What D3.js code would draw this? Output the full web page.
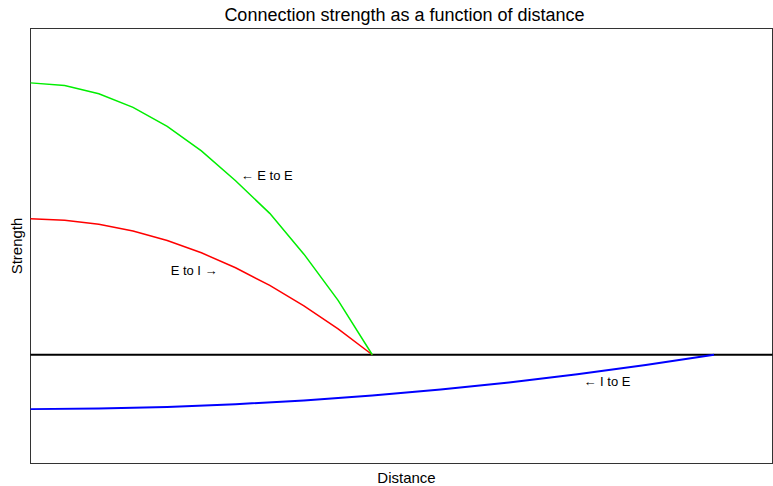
<!DOCTYPE html>
<html>
<head>
<meta charset="utf-8">
<script src="https://cdn.jsdelivr.net/npm/d3@7"></script>
<style>
  body { margin: 0; background: #fff; }
  svg { display: block; font-family: "Liberation Sans", Arial, sans-serif; }
</style>
</head>
<body>
<div id="chart"></div>
<script>
// Distances sampled for each connection type
const distE = [0, 0.1, 0.2, 0.3, 0.4, 0.5, 0.6, 0.7, 0.8, 0.9, 1.0];
const strengthEE = [1.0, 0.99, 0.96, 0.91, 0.84, 0.75, 0.64, 0.52, 0.37, 0.2, 0];
const strengthEI = [0.5, 0.495, 0.48, 0.455, 0.42, 0.375, 0.32, 0.255, 0.18, 0.095, 0];
const distI = [0, 0.2, 0.4, 0.6, 0.8, 1.0, 1.2, 1.4, 1.6, 1.8, 2.0];
const strengthIE = [-0.2, -0.198, -0.192, -0.182, -0.168, -0.15, -0.128, -0.102, -0.072, -0.038, 0];

const labels = [
  { text: "\u2190 E to E", d: 0.615, s: 0.642 },
  { text: "E to I \u2192", d: 0.41, s: 0.293 },
  { text: "\u2190 I to E", d: 1.618, s: -0.115 }
];

const width = 773, height = 486;
const margin = { top: 28.5, right: 0.5, bottom: 22.5, left: 30.5 };

const svg = d3.select("#chart")
  .append("svg")
  .attr("width", width)
  .attr("height", height);

const x = d3.scaleLinear()
  .domain([0, 2.171])
  .range([margin.left, width - margin.right]);

const y = d3.scaleLinear()
  .domain([-0.4, 1.2])
  .range([height - margin.bottom, margin.top]);

// frame
svg.append("rect")
  .attr("x", margin.left)
  .attr("y", margin.top)
  .attr("width", width - margin.right - margin.left)
  .attr("height", height - margin.bottom - margin.top)
  .attr("fill", "none")
  .attr("stroke", "#333")
  .attr("stroke-width", 1);

// zero line
svg.append("line")
  .attr("x1", x(0))
  .attr("x2", x.range()[1])
  .attr("y1", y(0))
  .attr("y2", y(0))
  .attr("stroke", "#000")
  .attr("stroke-width", 2);

const line = d3.line()
  .x(d => x(d[0]))
  .y(d => y(d[1]));

const series = [
  { dist: distE, vals: strengthEI, color: "#ff0000", w: 1.5 },
  { dist: distE, vals: strengthEE, color: "#00ee00", w: 1.5 },
  { dist: distI, vals: strengthIE, color: "#0000ff", w: 2 }
];

svg.append("g")
  .selectAll("path")
  .data(series)
  .join("path")
  .attr("fill", "none")
  .attr("stroke", d => d.color)
  .attr("stroke-width", d => d.w)
  .attr("d", d => line(d.dist.map((v, i) => [v, d.vals[i]])));

svg.append("g")
  .selectAll("text")
  .data(labels)
  .join("text")
  .attr("x", d => x(d.d))
  .attr("y", d => y(d.s))
  .attr("font-size", 13)
  .attr("fill", "#000")
  .text(d => d.text);

// title and axis labels
svg.append("text")
  .attr("x", (margin.left + width - margin.right) / 2 + 3)
  .attr("y", 21)
  .attr("text-anchor", "middle")
  .attr("font-size", 18)
  .text("Connection strength as a function of distance");

svg.append("text")
  .attr("x", (margin.left + width - margin.right) / 2 + 5)
  .attr("y", 483)
  .attr("text-anchor", "middle")
  .attr("font-size", 15)
  .text("Distance");

svg.append("text")
  .attr("transform", `translate(22, ${(margin.top + height - margin.bottom) / 2}) rotate(-90)`)
  .attr("text-anchor", "middle")
  .attr("font-size", 15)
  .text("Strength");
</script>
</body>
</html>
